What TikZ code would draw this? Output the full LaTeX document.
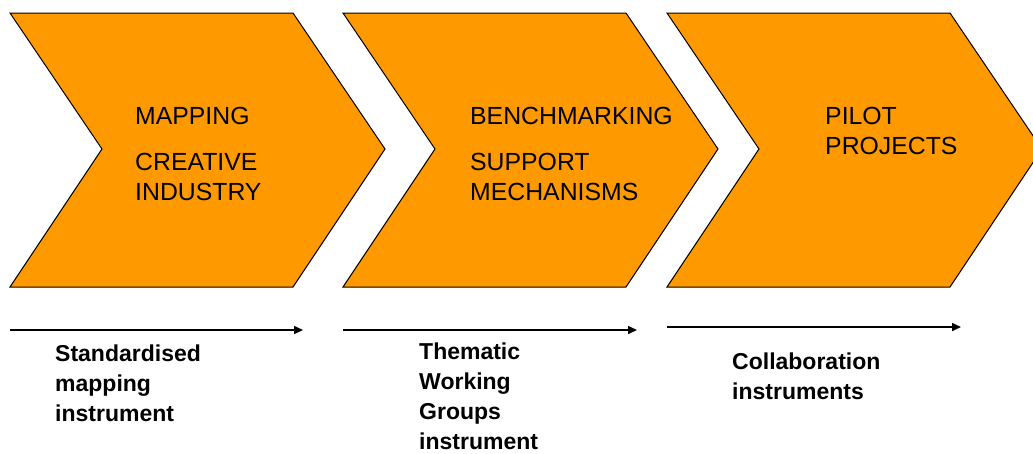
\documentclass[tikz,border=0pt]{standalone}
\usepackage{fontspec}
\setmainfont{Liberation Sans}
\usetikzlibrary{arrows.meta}
\definecolor{chevorange}{RGB}{255,153,0}
\tikzset{
  chev/.style={fill=chevorange,draw=black,line width=1pt},
  stage/.style={anchor=base west,inner sep=0pt,align=left,font=\fontsize{24.8}{30}\selectfont},
  tool/.style={anchor=base west,inner sep=0pt,align=left,font=\bfseries\fontsize{23}{30}\selectfont},
  flow/.style={line width=1.5pt,-{Triangle[length=9pt,width=8pt]}}
}

\begin{document}
\begin{tikzpicture}[x=1pt,y=-1pt]
\useasboundingbox (0,0) rectangle (1033,453);
\clip (0,0) rectangle (1033,453);
% the three chevrons
\foreach \x in {10,343,667}
  \draw[chev] (\x,13) -- ++(283,0) -- ++(92,136) -- ++(-92,138) -- ++(-283,0) -- ++(92,-138) -- cycle;
% stage titles (base of a two-line node is its last line)
\node[stage] (map) at (135,124) {MAPPING};
\node[stage] (creative) at (135,200) {CREATIVE\\INDUSTRY};
\node[stage] (bench) at (470,124) {BENCHMARKING};
\node[stage] (support) at (470,200) {SUPPORT\\MECHANISMS};
\node[stage] (pilot) at (825,154) {PILOT\\PROJECTS};
% arrows below
\coordinate (s1) at (10,330);
\coordinate (e1) at (303,330);
\coordinate (s2) at (343,330);
\coordinate (e2) at (637,330);
\coordinate (s3) at (667,327);
\coordinate (e3) at (961,327);
\draw[flow] (s1) -- (e1);
\draw[flow] (s2) -- (e2);
\draw[flow] (s3) -- (e3);
% instruments
\node[tool] (std) at (55,421) {Standardised\\mapping\\instrument};
\node[tool] (twg) at (419,449) {Thematic\\Working\\Groups\\instrument};
\node[tool] (collab) at (732,399) {Collaboration\\instruments};
\end{tikzpicture}
\end{document}
